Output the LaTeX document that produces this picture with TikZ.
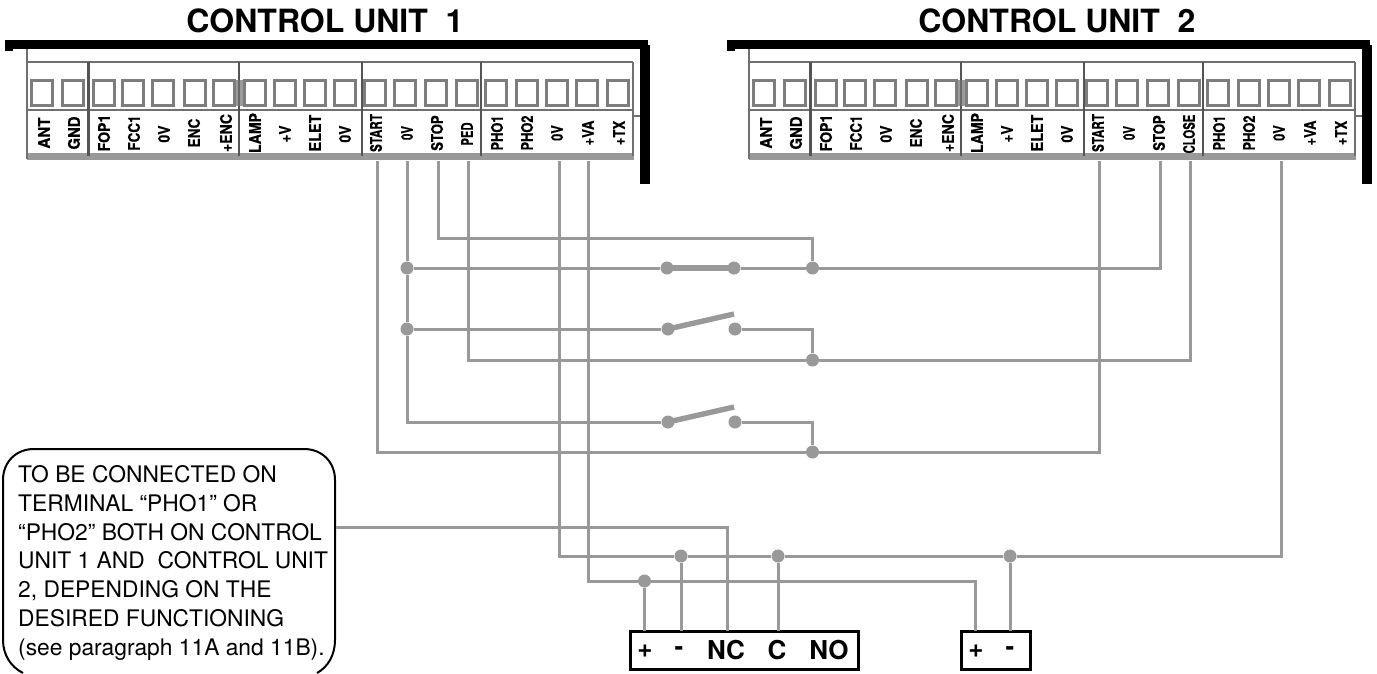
\documentclass[tikz,border=0pt]{standalone}
\usepackage{fontspec}
\setmainfont{TeX Gyre Heros}
\newfontfamily\labelfont[FakeBold=0.5]{TeX Gyre Heros Bold}
\newcommand{\squeezed}[2]{\scalebox{#1}[1]{#2}}
\tikzset{
  wire/.style={draw=wirecol,line width=3pt,line join=miter},
  armline/.style={draw=wirecol,line width=5.4pt},
  dotnode/.style={circle,fill=wirecol,draw=none,minimum size=13pt,inner sep=0pt},
  frameline/.style={draw=black,line width=9pt},
  panelline/.style={draw=panelcol,line width=2pt},
  divider/.style={draw=panelcol!75!black,line width=2.8pt},
  termbox/.style={draw=termcol,line width=2.6pt,minimum width=20.5pt,minimum height=25.5pt,inner sep=0pt},
  termlabel/.style={rotate=90,font=\labelfont\fontsize{16}{16}\selectfont,inner sep=0pt,anchor=center},
  titletext/.style={font=\bfseries\fontsize{32}{32}\selectfont,inner sep=0pt},
  devbox/.style={draw=black,line width=3pt,inner sep=0pt,fill=white},
  devlabel/.style={font=\bfseries\fontsize{26}{26}\selectfont,inner sep=0pt},
  notetext/.style={font=\fontsize{22.8}{28.9}\selectfont,align=left,inner sep=0pt,anchor=north west},
  noteline/.style={draw=black,line width=2pt},
  anchorbox/.style={inner sep=0pt,draw=none,minimum width=332pt,minimum height=224pt}
}
\definecolor{wirecol}{HTML}{999999}
\definecolor{panelcol}{HTML}{707070}
\definecolor{termcol}{HTML}{7D7D7D}
\newcommand{\ctrlpanel}[3]{%
 \begin{scope}[xshift=#2pt]
  \fill[wirecol] (27,153) rectangle (634,159.5);
  \draw[panelline] (27,49) -- (27,159);
  \draw[panelline] (27,62) -- (633,62);
  \draw[panelline] (27,110) -- (633,110);
  \draw[panelline] (633,62) -- (633,156);
  \draw[panelline] (633,116) -- (640,116);
  \foreach \vx in {88.5,239,362,481}{\draw[divider] (\vx,62) -- (\vx,156);}
  \fill[panelcol,opacity=.7] (235.5,80) rectangle (242.5,106);
  \foreach \tx [count=\ti] in {42,73,104,133,163,195,224,255,285,315,345,375,405,436,467,496,527,557,587,618}{
    \node[termbox] (#1b\ti) at (\tx,93) {};
  }
  \node[termlabel] (#1l1) at (44,133) {\squeezed{.95}{ANT}};
  \node[termlabel] (#1l2) at (74,133) {\squeezed{.93}{GND}};
  \node[termlabel] (#1l3) at (104,133) {\squeezed{.88}{FOP1}};
  \node[termlabel] (#1l4) at (134,133) {\squeezed{.84}{FCC1}};
  \node[termlabel] (#1l5) at (164,134) {\squeezed{.87}{0V}};
  \node[termlabel] (#1l6) at (194,133) {\squeezed{.85}{ENC}};
  \node[termlabel] (#1l7) at (226,133) {\squeezed{.88}{+ENC}};
  \node[termlabel] (#1l8) at (255,133) {\squeezed{.88}{LAMP}};
  \node[termlabel] (#1l9) at (285,134) {\squeezed{.85}{+V}};
  \node[termlabel] (#1l10) at (315,133) {\squeezed{.9}{ELET}};
  \node[termlabel] (#1l11) at (345,134) {\squeezed{.87}{0V}};
  \node[termlabel] (#1l12) at (376,133) {\squeezed{.73}{START}};
  \node[termlabel] (#1l13) at (407,133) {\squeezed{.72}{0V}};
  \node[termlabel] (#1l14) at (437,133) {\squeezed{.82}{STOP}};
  \node[termlabel] (#1l15) at (467,134) {#3};
  \node[termlabel] (#1l16) at (497,133) {\squeezed{.8}{PHO1}};
  \node[termlabel] (#1l17) at (527,133) {\squeezed{.8}{PHO2}};
  \node[termlabel] (#1l18) at (557,133) {\squeezed{.8}{0V}};
  \node[termlabel] (#1l19) at (588,133) {\squeezed{.82}{+VA}};
  \node[termlabel] (#1l20) at (619,133) {\squeezed{.82}{+TX}};
  \draw[frameline] (5,44.5) -- (648,44.5);
  \fill[black] (5,44.5) rectangle (13,51);
  \draw[draw=black,line width=10pt] (645,45) -- (645,184);
 \end{scope}}
\begin{document}
\begin{tikzpicture}[x=1pt,y=-1pt]
\useasboundingbox (0,0) rectangle (1377,673);
\fill[white] (0,0) rectangle (1377,673);
\node[titletext] (title1) at (325,21) {CONTROL UNIT\ \ 1};
\node[titletext] (title2) at (1057,21) {CONTROL UNIT\ \ 2};
\ctrlpanel{a}{0}{\squeezed{.7}{PED}}
\ctrlpanel{b}{722}{\squeezed{.71}{CLOSE}}
% terminal wire starts
\coordinate (aSTART) at (377,161);
\coordinate (a0V) at (407,161);
\coordinate (aSTOP) at (438,161);
\coordinate (aPED) at (468,161);
\coordinate (a0Vb) at (559,161);
\coordinate (aVA) at (588,161);
\coordinate (bSTART) at (1099,161);
\coordinate (bSTOP) at (1160,161);
\coordinate (bCLOSE) at (1190,161);
\coordinate (b0V) at (1281,161);
% device boxes
\node[devbox,minimum width=228pt,minimum height=38pt] (dev1) at (744,650) {};
\node[devbox,minimum width=69pt,minimum height=38pt] (dev2) at (995.5,650) {};
\coordinate (d1p) at (644.5,631);
\coordinate (d1m) at (681,631);
\coordinate (d1nc) at (727,631);
\coordinate (d1c) at (778,631);
\coordinate (d2p) at (975,631);
\coordinate (d2m) at (1010,631);
% dots
\node[dotnode] (j1) at (407,268) {};
\node[dotnode] (j2) at (407,329) {};
\node[dotnode] (s1a) at (667,268) {};
\node[dotnode] (s1b) at (734,268) {};
\node[dotnode] (k1) at (812.5,268) {};
\node[dotnode] (s2a) at (668,329) {};
\node[dotnode] (s2b) at (735,329) {};
\node[dotnode] (k2) at (812.5,360) {};
\node[dotnode] (s3a) at (668,422) {};
\node[dotnode] (s3b) at (735,422) {};
\node[dotnode] (k3) at (812.5,452) {};
\node[dotnode] (p1) at (681,556) {};
\node[dotnode] (p2) at (778,556) {};
\node[dotnode] (p3) at (1010,556) {};
\node[dotnode] (q1) at (644.5,581) {};
\coordinate (arm2) at (734,314);
\coordinate (arm3) at (734,407);
% wires
\draw[wire] (aSTOP) |- (600,238) -| (k1);
\draw[wire] (a0V) -- (j1) -- (j2) |- (s3a);
\draw[wire] (j1) -- (s1a);
\draw[wire] (s1b) -- (k1) -- (1160,268) -- (bSTOP);
\draw[armline] (s1a.center) -- (s1b.center);
\draw[wire] (j2) -- (s2a);
\draw[armline] (s2a.center) -- (arm2);
\draw[wire] (s2b) -| (k2);
\draw[wire] (aPED) |- (k2);
\draw[wire] (k2) -- (1190,360) -- (bCLOSE);
\draw[armline] (s3a.center) -- (arm3);
\draw[wire] (s3b) -| (k3);
\draw[wire] (aSTART) |- (k3);
\draw[wire] (k3) -- (1099,452) -- (bSTART);
\draw[wire] (a0Vb) |- (p1) -- (p2) -- (p3) -- (1281,556) -- (b0V);
\draw[wire] (aVA) |- (q1) -- (975,581) -- (d2p);
\draw[wire] (q1) -- (d1p);
\draw[wire] (p1) -- (d1m);
\draw[wire] (p2) -- (d1c);
\draw[wire] (p3) -- (d2m);
% device labels
\node[devlabel] (t1) at (645,651) {+};
\node[devlabel] (t2) at (679,651) {-};
\node[devlabel] (t3) at (726,650) {NC};
\node[devlabel] (t4) at (777,650) {C};
\node[devlabel] (t5) at (829,650) {NO};
\node[devlabel] (t6) at (976,651) {+};
\node[devlabel] (t7) at (1010,651) {-};
% callout
\draw[noteline] (23,673) .. controls (11,667) and (3,655) .. (3,640) -- (3,480) .. controls (3,462) and (16,449) .. (34,449) -- (304,449) .. controls (322,449) and (335,462) .. (335,480) -- (335,640) .. controls (335,655) and (328,667) .. (317,673);
\node[anchorbox] (note) at (169,561) {};
\node[notetext] (notebody) at (18,465) {TO BE CONNECTED ON\\TERMINAL “PHO1” OR\\“PHO2” BOTH ON CONTROL\\UNIT 1 AND\ \ CONTROL UNIT\\2, DEPENDING ON THE\\DESIRED FUNCTIONING\\(see paragraph 11A and 11B).};
\coordinate (noteout) at (336,527);
\draw[wire] (noteout) -| (d1nc);
\end{tikzpicture}
\end{document}
